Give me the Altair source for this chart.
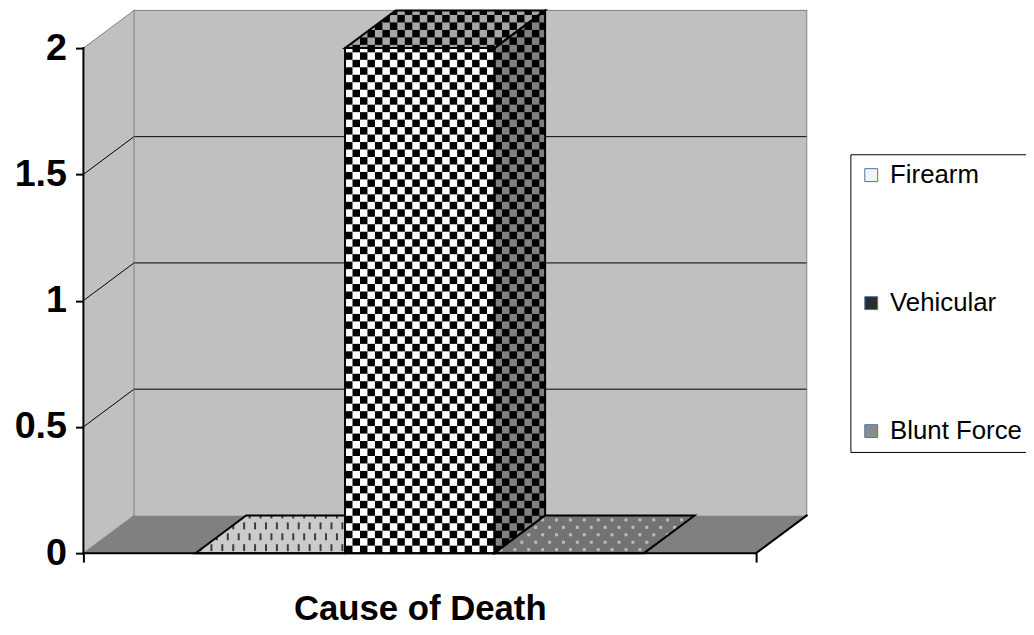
import altair as alt
import pandas as pd

# ---------------- data ----------------
category = "Cause of Death"
series = ["Firearm", "Vehicular", "Blunt Force"]
values = [0, 2, 0]
y_ticks = [0, 0.5, 1, 1.5, 2]

# ---------------- layout / style ----------------
XU, YU = 150.67, 254.5          # px per data unit
DEPTH_PX = (51, 38)             # 3-D depth offset in px
GAP, BAR = 0.75, 1.0            # Excel gap width 150 %
N = len(series)
X_LEN = 2 * GAP + N * BAR
Y_MAX = max(y_ticks)
DX, DY = DEPTH_PX[0] / XU, DEPTH_PX[1] / YU
W = round(X_LEN * XU + DEPTH_PX[0])
H = round(Y_MAX * YU + DEPTH_PX[1])
XS = alt.Scale(domain=[0, W / XU], nice=False, zero=False)
YS = alt.Scale(domain=[0, H / YU], nice=False, zero=False)

WALL, FLOOR, EDGE = "#c0c0c0", "#808080", "#808080"
FACE = {  # front, top, side
    "Firearm": ("#cbcbcb", "#cbcbcb", "#cbcbcb"),
    "Vehicular": ("#ffffff", "#a6a6a6", "#808080"),
    "Blunt Force": ("#737373", "#737373", "#737373"),
}
LEG_COLORS = ["#f4f4f4", "#2c2c2c", "#8c8c8c"]
FONT = "Liberation Sans"

XA = alt.Axis(
    values=[0, X_LEN], labels=False, ticks=True, tickSize=9, tickWidth=2,
    tickColor="black", domain=False, grid=False, title=category,
    titleFont=FONT, titleFontSize=35, titleFontWeight="bold", titleColor="black",
    titleX=X_LEN * XU / 2, titleY=67, titleBaseline="alphabetic", titleAlign="center",
    zindex=1)
YA = alt.Axis(
    values=y_ticks, format="~g", labelFont=FONT, labelFontSize=38,
    labelFontWeight="bold", labelColor="black", tickSize=8, tickWidth=2,
    tickColor="black", domain=False, grid=False, title=None, labelPadding=9,
    zindex=1)


def P(x, y, z):
    return (x + z * DX, y + z * DY)


def dedupe(poly):
    out = []
    for p in poly:
        if not out or abs(p[0] - out[-1][0]) > 1e-9 or abs(p[1] - out[-1][1]) > 1e-9:
            out.append(p)
    if len(out) > 1 and abs(out[0][0] - out[-1][0]) < 1e-9 and abs(out[0][1] - out[-1][1]) < 1e-9:
        out.pop()
    return out


def clip(poly, hull):
    out = poly
    n = len(hull)
    for i in range(n):
        a, b = hull[i], hull[(i + 1) % n]
        inp, out = out, []
        if not inp:
            break

        def side(p):
            return (b[0] - a[0]) * (p[1] - a[1]) - (b[1] - a[1]) * (p[0] - a[0])

        for j in range(len(inp)):
            cur, prev = inp[j], inp[j - 1]
            sc, sp = side(cur), side(prev)
            if sc >= -1e-12:
                if sp < -1e-12:
                    t = sp / (sp - sc)
                    out.append((prev[0] + t * (cur[0] - prev[0]), prev[1] + t * (cur[1] - prev[1])))
                out.append(cur)
            elif sp >= -1e-12:
                t = sp / (sp - sc)
                out.append((prev[0] + t * (cur[0] - prev[0]), prev[1] + t * (cur[1] - prev[1])))
    return out


def area(poly):
    s = 0
    for i in range(len(poly)):
        x1, y1 = poly[i - 1]
        x2, y2 = poly[i]
        s += x1 * y2 - x2 * y1
    return abs(s) / 2


def poly_rows(rows, pid, poly, fill):
    for k, (x, y) in enumerate(poly):
        rows.append({"pid": pid, "k": k, "x": x, "y": y, "fill": fill})


def rect_px(x0, y0, w, h):
    return [(x0 / XU, y0 / YU), ((x0 + w) / XU, y0 / YU),
            ((x0 + w) / XU, (y0 + h) / YU), (x0 / XU, (y0 + h) / YU)]


def texture(name, x0, x1, h):
    """Small texture shapes (in px, screen aligned) covering the bar's bounding box."""
    ax = x0 * XU
    bw = (x1 - x0) * XU + DEPTH_PX[0]
    bh = h * YU + DEPTH_PX[1]
    shapes = []
    if name == "Vehicular":
        c = BAR * XU / 20
        for i in range(int(bw / c) + 2):
            for j in range(int(bh / c) + 2):
                if (i + j) % 2 == 0:
                    shapes.append((rect_px(ax + i * c, j * c, c, c), "#000000"))
    elif name == "Firearm":
        col, row = 11.0, 11.0
        for r in range(int(bh / row) + 2):
            off = (r % 2) * col / 2
            for k in range(int(bw / col) + 2):
                shapes.append((rect_px(ax + off + k * col + 4, r * row + 2, 2, 7), "#3c3c3c"))
    else:
        col, row = 14.0, 7.5
        for r in range(int(bh / row) + 2):
            off = (r % 2) * col / 2
            for k in range(int(bw / col) + 2):
                shapes.append((rect_px(ax + off + k * col + 5, r * row + 2, 3, 3), "#bdbdbd"))
    return shapes


def enc(**extra):
    return dict(x=alt.X("x:Q", scale=XS, axis=XA),
                y=alt.Y("y:Q", scale=YS, axis=YA),
                detail="pid:N", order="k:Q", **extra)


def poly_layer(rows):
    df = pd.DataFrame(rows)
    return alt.Chart(df).mark_line(interpolate="linear-closed", strokeWidth=0).encode(
        **enc(fill=alt.Fill("fill:N", scale=None)))


def outline_layer(rows, color, width, closed=True):
    df = pd.DataFrame(rows)
    return alt.Chart(df).mark_line(
        interpolate="linear-closed" if closed else "linear",
        color=color, strokeWidth=width, strokeCap="square").encode(**enc())


def seg_rows(segs):
    rows = []
    for n, (a, b) in enumerate(segs):
        rows.append({"pid": f"s{n}", "k": 0, "x": a[0], "y": a[1]})
        rows.append({"pid": f"s{n}", "k": 1, "x": b[0], "y": b[1]})
    return rows


# ---------------- walls & floor ----------------
wall_rows = []
poly_rows(wall_rows, "back", [P(0, 0, 1), P(X_LEN, 0, 1), P(X_LEN, Y_MAX, 1), P(0, Y_MAX, 1)], WALL)
poly_rows(wall_rows, "side", [P(0, 0, 0), P(0, 0, 1), P(0, Y_MAX, 1), P(0, Y_MAX, 0)], WALL)
poly_rows(wall_rows, "floor", [P(0, 0, 0), P(X_LEN, 0, 0), P(X_LEN, 0, 1), P(0, 0, 1)], FLOOR)
walls = poly_layer(wall_rows)

# ---------------- legend carrier (hidden under the bars) ----------------
bar_df = pd.DataFrame({
    "series": series,
    "value": values,
    "x0": [GAP + i * BAR for i in range(N)],
    "x1": [GAP + (i + 1) * BAR for i in range(N)],
    "base": [0] * N,
})
legend_layer = alt.Chart(bar_df).mark_rect(stroke="black", strokeWidth=1).encode(
    x=alt.X("x0:Q", scale=XS, axis=XA),
    x2="x1:Q",
    y=alt.Y("base:Q", scale=YS, axis=YA),
    y2="value:Q",
    fill=alt.Fill("series:N", sort=series,
                  scale=alt.Scale(domain=series, range=LEG_COLORS),
                  legend=alt.Legend(
                      orient="none", legendX=773, legendY=145, title=None,
                      symbolType="square", symbolSize=169, symbolStrokeColor="black",
                      symbolStrokeWidth=1, labelFont=FONT, labelFontSize=26,
                      labelColor="black", labelOffset=6, rowPadding=103,
                      padding=8, strokeColor="black")),
)

# ---------------- grid & wall edges ----------------
grid_segs = []
for t in y_ticks:
    if 0 < t < Y_MAX:
        grid_segs.append((P(0, t, 1), P(X_LEN, t, 1)))
        grid_segs.append((P(0, t, 0), P(0, t, 1)))
edge_segs = [
    (P(0, Y_MAX, 0), P(0, Y_MAX, 1)),
    (P(0, Y_MAX, 1), P(X_LEN, Y_MAX, 1)),
    (P(X_LEN, Y_MAX, 1), P(X_LEN, 0, 1)),
    (P(0, 0, 1), P(0, Y_MAX, 1)),
    (P(0, 0, 0), P(0, 0, 1)),
]
grid_layer = outline_layer(seg_rows(grid_segs), "black", 1, closed=False)
edge_layer = outline_layer(seg_rows(edge_segs), EDGE, 1, closed=False)

# ---------------- bars ----------------
bar_layers = []
for i, (name, h) in enumerate(zip(series, values)):
    x0, x1 = GAP + i * BAR, GAP + (i + 1) * BAR
    front = [P(x0, 0, 0), P(x1, 0, 0), P(x1, h, 0), P(x0, h, 0)]
    top = [P(x0, h, 0), P(x1, h, 0), P(x1, h, 1), P(x0, h, 1)]
    side = [P(x1, 0, 0), P(x1, 0, 1), P(x1, h, 1), P(x1, h, 0)]
    faces = [("front", front, FACE[name][0]), ("top", top, FACE[name][1]),
             ("side", side, FACE[name][2])]
    if h == 0:
        faces = [faces[1]]
    rows = []
    for fname, poly, col in faces:
        poly_rows(rows, f"{i}{fname}", poly, col)
    hull = dedupe([P(x0, 0, 0), P(x1, 0, 0), P(x1, 0, 1), P(x1, h, 1), P(x0, h, 1), P(x0, h, 0)])
    trows = []
    for n, (shape, col) in enumerate(texture(name, x0, x1, h)):
        c = clip(shape, hull)
        if len(c) >= 3 and area(c) > 1e-7:
            poly_rows(trows, f"t{i}_{n}", c, col)
    orows = []
    for fname, poly, col in faces:
        poly_rows(orows, f"o{i}{fname}", poly, col)
    bar_layers.append(poly_layer(rows))
    if trows:
        bar_layers.append(poly_layer(trows))
    bar_layers.append(outline_layer(orows, "black", 2))

# ---------------- axis lines ----------------
axis_segs = [
    (P(0, 0, 0), P(0, Y_MAX, 0)),
    (P(0, 0, 0), P(X_LEN, 0, 0)),
    (P(X_LEN, 0, 0), P(X_LEN, 0, 1)),
]
axis_layer = outline_layer(seg_rows(axis_segs), "black", 2, closed=False)

chart = alt.layer(
    walls, legend_layer, grid_layer, edge_layer, *bar_layers, axis_layer
).properties(
    width=W, height=H,
    padding={"left": 76, "top": 0, "right": 1026 - 76 - W, "bottom": 72},
    autosize=alt.AutoSizeParams(type="none"),
    background="white",
).configure_view(stroke=None)

chart.save("out.html", embed_options={"renderer": "svg", "actions": False})
